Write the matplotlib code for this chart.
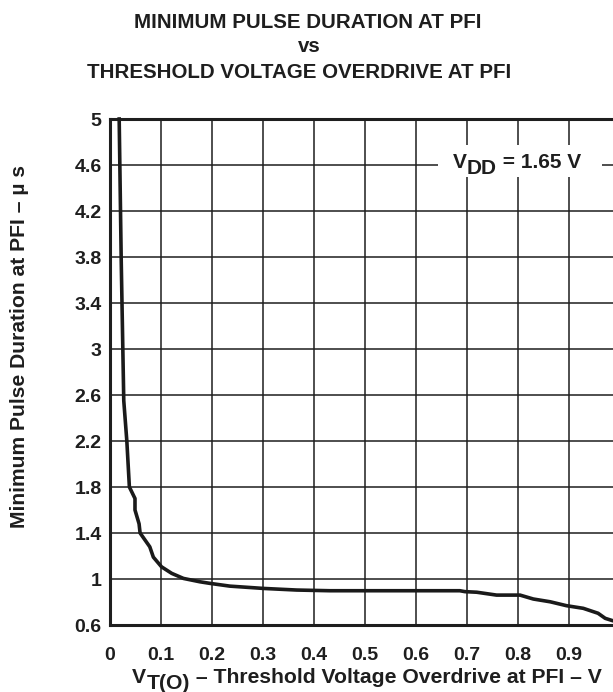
import matplotlib
matplotlib.use("Agg")
import matplotlib.pyplot as plt
from matplotlib.patches import Rectangle

# Curve
VTO = [0.018, 0.022, 0.027, 0.033, 0.038, 0.049, 0.049, 0.057, 0.059, 0.078,
       0.085, 0.101, 0.121, 0.144, 0.176, 0.196, 0.235, 0.301, 0.366, 0.431,
       0.50, 0.60, 0.686, 0.696, 0.719, 0.758, 0.804, 0.830, 0.863, 0.895,
       0.928, 0.957, 0.971, 0.986, 1.0]
PULSE = [5.0, 3.77, 2.55, 2.2, 1.8, 1.70, 1.60, 1.48, 1.40, 1.28,
         1.19, 1.106, 1.049, 1.005, 0.976, 0.962, 0.938, 0.918, 0.904, 0.898,
         0.898, 0.898, 0.898, 0.890, 0.885, 0.860, 0.860, 0.826, 0.802, 0.768,
         0.745, 0.702, 0.658, 0.637, 0.63]

X_TICKS = [0, 0.1, 0.2, 0.3, 0.4, 0.5, 0.6, 0.7, 0.8, 0.9, 1.0]
X_LABELS = ["0", "0.1", "0.2", "0.3", "0.4", "0.5", "0.6", "0.7", "0.8", "0.9", "1"]
Y_TICKS = [0.6, 1.0, 1.4, 1.8, 2.2, 2.6, 3.0, 3.4, 3.8, 4.2, 4.6, 5.0]
Y_LABELS = ["0.6", "1", "1.4", "1.8", "2.2", "2.6", "3", "3.4", "3.8", "4.2", "4.6", "5"]

TITLE = ["MINIMUM PULSE DURATION AT PFI", "vs", "THRESHOLD VOLTAGE OVERDRIVE AT PFI"]

W, H = 613, 692
FONT = "Liberation Sans"
INK = "#1e1e1e"

plt.rcParams["font.family"] = [FONT, "DejaVu Sans"]

fig = plt.figure(figsize=(W / 100, H / 100), dpi=100)


def px(x, y):
    # pixel coords (top-left origin) -> figure fraction
    return x / W, (H - y) / H


ax = fig.add_axes([110 / W, (H - 625) / H, 510 / W, (625 - 119) / H])
ax.set_xlim(0, 1)
ax.set_ylim(0.6, 5.0)
ax.set_xticks(X_TICKS, labels=X_LABELS)
ax.set_yticks(Y_TICKS, labels=Y_LABELS)
ax.tick_params(length=0, labelsize=14)
ax.tick_params(axis="x", pad=16)
ax.tick_params(axis="y", pad=6)
for lab in ax.get_xticklabels() + ax.get_yticklabels():
    lab.set_fontweight("bold")
    lab.set_color(INK)
ax.set_axisbelow(True)
ax.grid(True, color=INK, linewidth=1.1)
for sp in ax.spines.values():
    sp.set_linewidth(2.2)
    sp.set_color(INK)

ax.plot(VTO, PULSE, color="#1a1a1a", linewidth=2.6, zorder=3, clip_on=False,
        solid_joinstyle="round")

# white box behind the supply label
x0, y0 = 438, 145
x1, y1 = 602, 177
ax.add_patch(Rectangle(((x0 - 110) / 510, (625 - y1) / 506), (x1 - x0) / 510, (y1 - y0) / 506,
                       transform=ax.transAxes, facecolor="white", edgecolor="none", zorder=2))

renderer = fig.canvas.get_renderer()


def pieces(parts, xc, y_base, size):
    # parts: list of (text, drop in px); laid out left to right, centred on xc
    texts = []
    total = 0
    for s, dy in parts:
        t = fig.text(0, 0, s, fontsize=size, fontweight="bold", color=INK,
                     ha="left", va="baseline")
        w = t.get_window_extent(renderer).width
        texts.append((t, dy, w))
        total += w
    x = xc - total / 2
    for t, dy, w in texts:
        t.set_position(px(x, y_base + dy))
        x += w


# title
fig.text(*px(308, 28.5), TITLE[0], fontsize=14.8, fontweight="bold", color=INK,
         ha="center", va="baseline")
fig.text(*px(309, 52), TITLE[1], fontsize=14.8, fontweight="bold", color=INK,
         ha="center", va="baseline")
fig.text(*px(299, 78), TITLE[2], fontsize=14.8, fontweight="bold", color=INK,
         ha="center", va="baseline")

# supply label
pieces([("V", 0), ("DD", 6), (" = 1.65 V", 0)], 517, 168, 15)

# x label
pieces([("V", 0), ("T(O)", 6), (" \u2013 Threshold Voltage Overdrive at PFI \u2013 V", 0)],
       367, 683, 15.2)

# y label
fig.text(*px(20, 346), "Minimum Pulse Duration at PFI \u2013 \u00b5 s", rotation=90,
         fontsize=15.2, fontweight="bold", color=INK, ha="center", va="center")

fig.savefig("out.png", dpi=100, facecolor="white")
